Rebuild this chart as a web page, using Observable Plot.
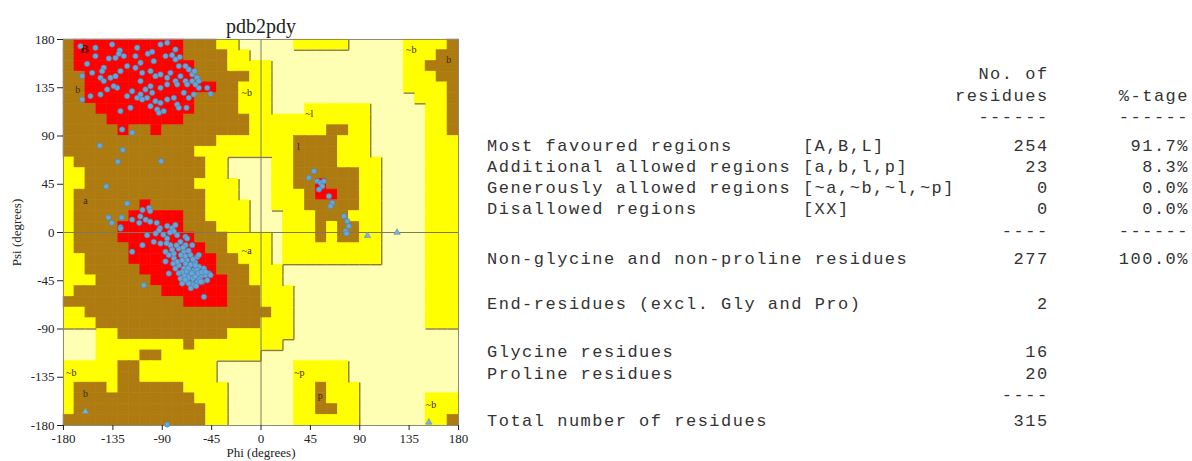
<!DOCTYPE html>
<html><head><meta charset="utf-8">
<script src="https://cdn.jsdelivr.net/npm/d3@7"></script>
<script src="https://cdn.jsdelivr.net/npm/@observablehq/plot@0.6"></script>
<style>
body{margin:0;background:#fff;}
#wrap{position:relative;width:1192px;height:461px;overflow:hidden;background:#fff;}
#chart{position:absolute;left:0;top:0;}
#table{position:absolute;left:0;top:0;pointer-events:none;}
</style></head><body>
<div id="wrap"><div id="chart"></div><svg id="table" width="1192" height="461"></svg></div>
<script>
// Region map, 10-degree cells, rows from psi 180 (top) down to -180, columns phi -180..180
// P = disallowed, Y = generously allowed, B = additional allowed, R = most favoured
const regionRows = [
"B1R10B3Y2P5Y5P5Y4B1",
"B1R10B4Y2P14Y3B2",
"B1R11B3Y4P12Y2B3",
"B2R10B5Y2P12Y3B2",
"B2R12B2Y3P12Y4B1",
"B2R10B4Y3P13Y3B1",
"B3R9B4Y3P3Y6P5Y2B1",
"B4R7B6Y11P5Y2B1",
"B5R1B2R1B8Y7B2Y2P5Y2B1",
"B14Y7B4Y3P5Y3",
"B12Y9B4Y3P5Y3",
"Y1B12Y2P4Y2B4Y4P4Y3",
"Y2B11Y2P4Y2B6Y2P4Y3",
"Y2B10Y4P3Y2B2R1B3Y2P4Y3",
"Y1B12Y3P3Y3B1R2B2Y2P4Y3",
"Y1B6R1B5Y4P2Y3B5Y2P4Y3",
"Y1B5R5B2Y4P3Y3B3Y3P4Y3",
"Y1B4R6B3Y3P3Y3B1Y1B2Y2P4Y3",
"Y1B4R7B3Y4P1Y3B1Y1B2Y2P4Y3",
"Y1B5R7B2Y4P1Y9P4Y3",
"Y2B4R8B2Y3P1Y9P4Y3",
"Y2B5R7B3Y3P13Y3",
"Y3B5R7B2Y3P13Y3",
"Y1B8R6B3Y3P12Y3",
"B11R4B3Y3P12Y3",
"Y2B17Y2P12Y3",
"Y3B15Y3P12Y3",
"P3Y2B10Y6P15",
"P3Y8B1Y8P16",
"P3Y4B2Y9P18",
"Y5B2Y7P7Y5P10",
"Y5B2Y7P7Y5P10",
"Y1B3Y1B6Y4P6Y2B1Y3P9",
"Y1B11Y3P6Y2B1Y3P6Y3",
"Y1B12Y2P6Y2B2Y2P6Y3",
"B13Y2P6Y6P6Y2B1"
];
const regionCodes = ["P", "Y", "B", "R"];

// Non-glycine, non-proline residues [phi, psi]
const residues = [
[-164.6,173.8],[-135.7,175.4],[-128.7,169.8],[-129.6,166.7],[-150.9,164.5],[-158.5,157.3],[-138.7,162.3],[-132.6,162.9],
[-114.4,164.5],[-103.2,166.7],[-99.2,168.5],[-97.7,159.8],[-85.5,176.9],[-87,164.5],[-81,165.4],[-77.9,161.4],[-74,163.6],
[-74.9,155.2],[-65.8,152],[-62.7,147.4],[-58.2,144.3],[-60.6,150.5],[-143.3,153.6],[-144.8,150.5],[-153.9,148.9],[-146.3,144.3],
[-143.3,141.2],[-137.2,144.3],[-132.6,145.8],[-128.1,150.5],[-122,155.2],[-114.4,153.6],[-108.3,148.9],[-109.8,141.2],
[-100.7,150.5],[-96.2,145.8],[-91.6,147.4],[-85.5,144.3],[-82.5,148.9],[-77.9,141.2],[-73.4,145.8],[-68.8,141.2],[-67.3,138.1],
[-56.6,134.9],[-49,134.9],[-46,129.3],[-61.2,128.7],[-65.8,125.6],[-70.3,130.3],[-76.4,138.1],[-85.5,138.1],[-91.6,134.9],
[-100.7,136.5],[-105.3,133.4],[-109.8,128.7],[-112.9,125.6],[-117.4,131.8],[-122,127.2],[-131.1,134.9],[-134.2,136.5],
[-140.2,133.4],[-146.3,128.7],[-155.4,127.2],[-163,124],[-103.8,125.6],[-99.2,130.3],[-96.2,122.5],[-91.6,120.9],[-94.6,114.7],
[-85.5,124],[-79.4,125.6],[-76.4,119.4],[-67.9,116.3],[-74.9,116.3],[-88.6,113.2],[-93.1,111.6],[-100.7,117.8],[-108.3,124],
[-119,116.3],[-128.1,113.2],[-126.6,96],[-117.4,93],[-91.6,175.4],[-112.9,172.3],[-150.9,172.3],[-78,170.7],[-62.7,141.2],
[-59.7,138.1],[-56.6,141.2],[-68.8,155.2],[-125,164.5],[-109.8,158.3],[-163,146],
[-147,81],[-126,77],[-130.5,66],[-91,66.5],[-141,43],[-122,27],
[-139,14],[-127,14],[-136,9],[-128,5],[-117.4,12],[-110,15],[-105,12],[-101,10],[-111,9],[-95,9],[-92,4],[-85.5,6],[-81,4],
[-78,7],[-79.4,1],[-102,23],[-101,20],[-108,21],
[-128,3.7],[-117.4,-18],[-108,-11.8],[-103.8,-2.5],[-93,2],[-85.5,-5.6],[-82.5,-11.8],[-84,-21],[-79.4,-24],[-75,-15],
[-73.4,-8.7],[-70.3,-18],[-67.3,-25.8],[-62.7,-29],[-58,-22.7],[-61.2,-35.2],[-65.8,-39.8],[-70.3,-33.6],[-74.9,-30.5],
[-78,-33.6],[-84,-38.3],[-73.4,-43],[-67.3,-46],[-62.7,-47.6],[-58,-46],[-55,-41.4],[-50.6,-39.8],[-47.5,-38.3],[-52,-33.6],
[-56.6,-32],[-64.2,-21],[-68.8,-11.8],[-106.8,-49.2],[-52,-60],[-87,-18],[-91.6,-10.3],[-97.7,-8.7],[-96,-1],[-76.4,-2.5],
[-68.8,-4],[-79.4,-19.6],[-59.7,-39.8],[-64.2,-36.7],[-68.8,-29],[-71.8,-25.8],[-76.4,-27.4],[-58.2,-35],[-53.6,-46],[-49,-44.5],
[-46,-39.8],[-65.8,-47.6],[-71.8,-47.6],[-61.2,-49.2],[-66,-42],[-62,-43],[-60,-41],[-63,-38],[-57,-38],[-70,-40],[-68,-36],
[-72,-37],[-66,-33],[-64,-30],[-60,-28],[-62,-25],[-69,-22],[-73,-21],[-77,-12],[-81,-16],[-86,-10],[-89,-2],[-83,0],[-71,-14],
[-66,-17],[-56,-44],[-54,-37],[-59,-50],[-64,-52],[-69,-44],[-75,-38],[-80,-29],[-87,-27],[-67.3,-5.6],[-62.7,-11.8],
[-56.6,-21],[-59.7,-30.5],[-50.6,-36.7],[-55.1,-46],
[43.6,51],[48.2,57.2],[51.2,47.9],[54.3,46.3],[55.8,43.2],[52.8,40.1],[57.3,47.9],[61.9,33.9],[64.9,27.6],[63.4,24.5],
[75.6,15.2],[78.6,10.5],[80.1,5.9],[77.1,1.2],[78,-1],
[-85.5,-179]
];
// Glycine residues [phi, psi]
const glycines = [[97,-3],[124,0],[153,-177],[-160,-167]];

// Region labels [text, phi, psi]
const regionLabels = [
["b",-167,133],["a",-160,30],["~b",-13,130],["~b",137,170],["b",171,161],["~l",44,111],["l",34,80],
["~a",-13,-17],["~p",35,-131],["p",54,-152],["~b",155,-161],["~b",-173,-131],["b",-160,-150]
];
const coreLabels = [["B",-161,171]];

const axisTicks = [-180,-135,-90,-45,0,45,90,135,180];
const chartTitle = "pdb2pdy";

// Statistics table
const headerTop = "No. of";
const headerCount = "residues";
const headerPct = "%-tage";
const regionStatLabels = ["Most favoured regions","Additional allowed regions","Generously allowed regions","Disallowed regions"];
const regionStatCodes = ["[A,B,L]","[a,b,l,p]","[~a,~b,~l,~p]","[XX]"];
const regionStatCounts = [254,23,0,0];
const regionStatPercents = ["91.7%","8.3%","0.0%","0.0%"];
const summaryLabels = ["Non-glycine and non-proline residues","End-residues (excl. Gly and Pro)","Glycine residues","Proline residues","Total number of residues"];
const summaryCounts = [277,2,16,20,315];
const summaryPercents = ["100.0%","","","",""];

// ---- build cells
function expandRow(s){const out=[];for(const m of s.matchAll(/([PYBR])(\d+)/g))for(let k=0;k<+m[2];k++)out.push(m[1]);return out;}
const grid = regionRows.map(expandRow);
const cells=[];
grid.forEach((r,i)=>r.slice(0,36).forEach((c,j)=>cells.push({phi:-180+10*j,psi:180-10*i,code:c})));
// boundary edges drawn where a generously-allowed cell meets a disallowed one to its right or below
const edges=[];
grid.forEach((r,i)=>r.forEach((c,j)=>{
  if(c!=="Y") return;
  const phi=-180+10*j, psi=180-10*i;
  if(j<35 && r[j+1]==="P") edges.push({x1:phi+10,y1:psi,x2:phi+10,y2:psi-10});
  if(i<35 && grid[i+1][j]==="P") edges.push({x1:phi,y1:psi-10,x2:phi+10,y2:psi-10});
}));

const colors={P:"#FFFFB4",Y:"#FFFF00",B:"#AE7B10",R:"#FF0000"};
const serif="'Liberation Serif','Times New Roman',serif";

const plot = Plot.plot({
  width:470, height:461,
  marginLeft:63, marginRight:12, marginTop:39, marginBottom:36,
  style:{fontFamily:serif, fontSize:"13px", color:"#222", background:"#fff"},
  x:{domain:[-180,180]},
  y:{domain:[-180,180]},
  color:{type:"ordinal", domain:regionCodes, range:regionCodes.map(c=>colors[c])},
  marks:[
    Plot.rect(cells,{x1:"phi",x2:d=>d.phi+10,y1:d=>d.psi-10,y2:"psi",fill:"code",stroke:"code",strokeWidth:0.6}),
    Plot.link(edges,{x1:"x1",y1:"y1",x2:"x2",y2:"y2",stroke:"#8c7c2c",strokeWidth:1.4}),
    Plot.ruleX([0],{stroke:"#7d7a5a",strokeWidth:1}),
    Plot.ruleY([0],{stroke:"#7d7a5a",strokeWidth:1}),
    Plot.frame({stroke:"#8a8a80",strokeWidth:1}),
    Plot.text(regionLabels,{x:d=>d[1],y:d=>d[2],text:d=>d[0],fontSize:10,fill:"#3b2a05",fontFamily:serif}),
    Plot.text(coreLabels,{x:d=>d[1],y:d=>d[2],text:d=>d[0],fontSize:13,fontWeight:"bold",fill:"#4a0000",fontFamily:serif}),
    Plot.dot(residues,{x:d=>d[0],y:d=>d[1],r:2.7,fill:"#68a6d6",stroke:"#4682b4",strokeWidth:0.6}),
    Plot.dot(glycines,{x:d=>d[0],y:d=>d[1],r:2.4,symbol:"triangle",fill:"#7fb0d8",stroke:"#5a8fb8",strokeWidth:0.6}),
    Plot.axisX({ticks:axisTicks,tickFormat:d=>String(d),tickSize:5,tickPadding:3,fontSize:13,label:"Phi (degrees)",labelArrow:"none",labelAnchor:"center",labelOffset:31}),
    Plot.axisY({ticks:axisTicks,tickFormat:d=>String(d),tickSize:6,tickPadding:3,fontSize:13,label:"Psi (degrees)",labelArrow:"none",labelAnchor:"center",labelOffset:52}),
    Plot.text([chartTitle],{frameAnchor:"top",dy:-21,fontSize:20,fontFamily:serif,fill:"#222"})
  ]
});
document.getElementById("chart").appendChild(plot);

// ---- table
const svg=d3.select("#table");
const x0=487, cw=11.7;
const colX=c=>x0+c*cw;
const g=svg.append("g").attr("font-family","'Liberation Mono','Courier New',monospace").attr("font-size",17)
  .attr("letter-spacing","1.5px").attr("fill","#333").style("white-space","pre");
function t(x,y,s,anchor){g.append("text").attr("x",x).attr("y",y).attr("text-anchor",anchor||"start").text(s);}
t(colX(48),79,headerTop,"end");
t(colX(48),101,headerCount,"end");
t(colX(60),101,headerPct,"end");
t(colX(48),122,"------","end");
t(colX(60),122,"------","end");
const rowY=[151,172,193,214];
regionStatLabels.forEach((s,i)=>{t(x0,rowY[i],s);t(colX(27),rowY[i],regionStatCodes[i]);
  t(colX(48),rowY[i],String(regionStatCounts[i]),"end");t(colX(60),rowY[i],regionStatPercents[i],"end");});
t(colX(48),236,"----","end");
t(colX(60),236,"------","end");
const sumY=[264,309,357,379,426];
summaryLabels.forEach((s,i)=>{t(x0,sumY[i],s);t(colX(48),sumY[i],String(summaryCounts[i]),"end");
  if(summaryPercents[i])t(colX(60),sumY[i],summaryPercents[i],"end");});
t(colX(48),400,"----","end");
</script>
</body></html>
